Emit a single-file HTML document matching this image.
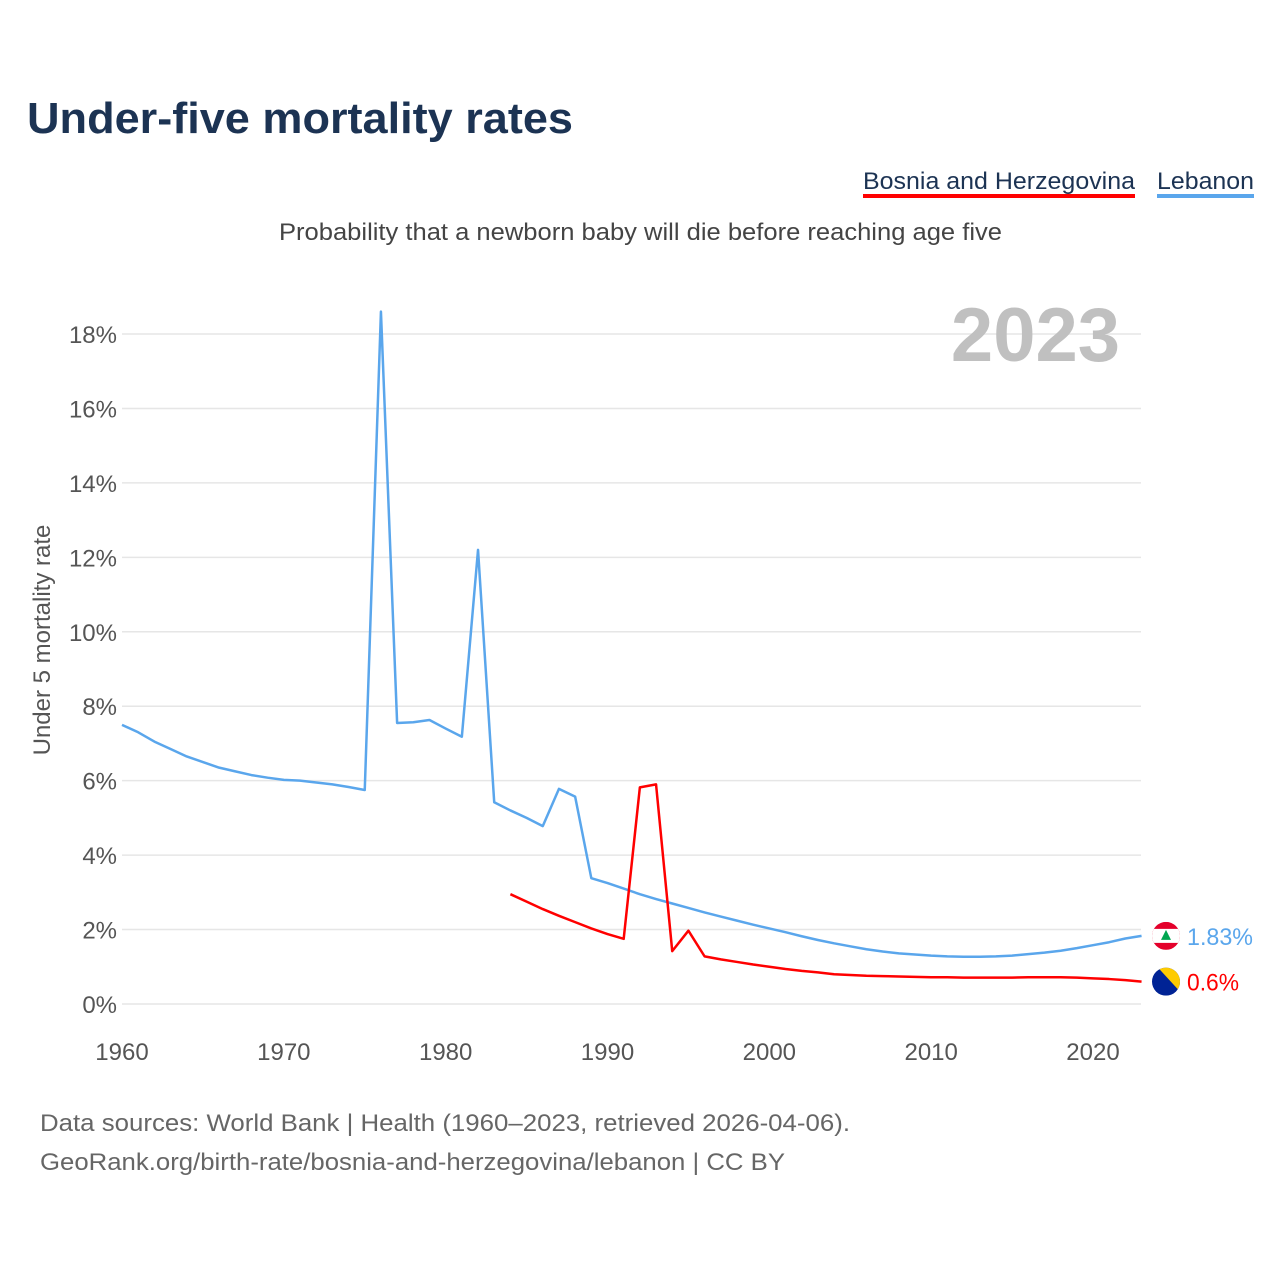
<!DOCTYPE html>
<html><head><meta charset="utf-8">
<style>
body{margin:0;background:#fff;font-family:"Liberation Sans",sans-serif;}
#wrap{position:relative;width:1280px;height:1280px;overflow:hidden;}
</style></head>
<body>
<div id="wrap">
<svg id="chart" width="1280" height="1280"></svg>
</div>
<script>
const years = [];
for (let y = 1960; y <= 2023; y++) years.push(y);
const lebanon = [7.5,7.3,7.05,6.85,6.65,6.5,6.35,6.25,6.15,6.08,6.02,6.0,5.95,5.9,5.83,5.75,18.6,7.55,7.57,7.63,7.4,7.18,12.2,5.42,5.2,5.0,4.78,5.78,5.57,3.38,3.25,3.1,2.95,2.82,2.7,2.58,2.46,2.35,2.24,2.13,2.03,1.93,1.82,1.72,1.63,1.55,1.47,1.41,1.36,1.33,1.3,1.28,1.27,1.27,1.28,1.3,1.34,1.38,1.43,1.5,1.58,1.66,1.76,1.83];
const bosniaYears = [];
for (let y = 1984; y <= 2023; y++) bosniaYears.push(y);
const bosnia = [2.95,2.75,2.55,2.37,2.2,2.03,1.88,1.75,5.82,5.9,1.42,1.97,1.28,1.2,1.13,1.06,1.0,0.94,0.89,0.85,0.8,0.78,0.76,0.75,0.74,0.73,0.72,0.72,0.71,0.71,0.71,0.71,0.72,0.72,0.72,0.71,0.69,0.67,0.64,0.6];
const yTicks = [0,2,4,6,8,10,12,14,16,18];
const xTicks = [1960,1970,1980,1990,2000,2010,2020];

const NS = "http://www.w3.org/2000/svg";
const svg = document.getElementById('chart');
const X = y => 122 + (y - 1960) * (1093 - 122) / 60;
const Y = v => 1004 - v * (1004 - 334) / 18;
function mk(tag, attrs, parent) {
  const e = document.createElementNS(NS, tag);
  for (const k in attrs) e.setAttribute(k, attrs[k]);
  (parent || svg).appendChild(e);
  return e;
}
function txt(s, attrs) { const e = mk('text', attrs); e.textContent = s; return e; }

let t = txt('Under-five mortality rates', {x:27,y:133,'font-size':44,'font-weight':'bold',fill:'#1c3353',textLength:546,lengthAdjust:'spacingAndGlyphs'});


t = txt('Probability that a newborn baby will die before reaching age five', {x:279,y:240,'font-size':24,fill:'#444',textLength:723,lengthAdjust:'spacingAndGlyphs'});



// legend
t = txt('Bosnia and Herzegovina', {x:863,y:189,'font-size':24,fill:'#1c3353',textLength:272,lengthAdjust:'spacingAndGlyphs'});


let r = mk('rect', {x:863,y:194,width:272,height:4,fill:'#ff0000'});


t = txt('Lebanon', {x:1157,y:189,'font-size':24,fill:'#1c3353',textLength:97,lengthAdjust:'spacingAndGlyphs'});


r = mk('rect', {x:1157,y:194,width:97,height:4,fill:'#5aa6ec'});



// grid + y ticks
yTicks.forEach(v => {
  const l = mk('line', {x1:122,x2:1141,y1:Y(v),y2:Y(v),stroke:'#e6e6e6','stroke-width':1.5});
  
  
  const tt = txt(v + '%', {x:117,y:Y(v)+9,'font-size':24,'text-anchor':'end',fill:'#555'});
  
  
});
xTicks.forEach(v => {
  const tt = txt(String(v), {x:X(v),y:1060,'font-size':24,'text-anchor':'middle',fill:'#555'});
  
  
});
t = txt('Under 5 mortality rate', {x:0,y:0,'font-size':24,'text-anchor':'middle',fill:'#555',transform:'translate(50,640) rotate(-90)'});



t = txt('2023', {x:1120,y:361,'font-size':76,'font-weight':'bold','text-anchor':'end',fill:'#c0c0c0'});



let p = mk('polyline', {points: years.map((y,i)=>X(y)+','+Y(lebanon[i])).join(' '), fill:'none', stroke:'#5aa6ec','stroke-width':2.5,'stroke-linejoin':'round'});


p = mk('polyline', {points: bosniaYears.map((y,i)=>X(y)+','+Y(bosnia[i])).join(' '), fill:'none', stroke:'#ff0000','stroke-width':2.5,'stroke-linejoin':'round'});



// flags
const lx = 1166, ly = Y(lebanon[lebanon.length-1]);
const gL = mk('g', {});


mk('clipPath', {id:'cl'}, gL);
mk('circle', {cx:lx,cy:ly,r:14}, gL.lastChild);
const gl2 = mk('g', {'clip-path':'url(#cl)'}, gL);
mk('rect', {x:lx-14,y:ly-14,width:28,height:28,fill:'#e4002b'}, gl2);
mk('rect', {x:lx-14,y:ly-7,width:28,height:14,fill:'#fff'}, gl2);
mk('polygon', {points:`${lx},${ly-6} ${lx-5},${ly+4} ${lx+5},${ly+4}`,fill:'#00a651'}, gL);
const bx = 1166, by = Y(bosnia[bosnia.length-1]);
const gB = mk('g', {});


mk('clipPath', {id:'cb'}, gB);
mk('circle', {cx:bx,cy:by,r:14}, gB.lastChild);
const gb2 = mk('g', {'clip-path':'url(#cb)'}, gB);
mk('rect', {x:bx-14,y:by-14,width:28,height:28,fill:'#002395'}, gb2);
mk('polygon', {points:`${bx-8},${by-14} ${bx+14},${by-14} ${bx+14},${by+10}`,fill:'#fecb00'}, gb2);

t = txt(lebanon[lebanon.length-1] + '%', {x:1187,y:ly+9,'font-size':24,fill:'#5aa6ec',textLength:66,lengthAdjust:'spacingAndGlyphs'});


t = txt(bosnia[bosnia.length-1] + '%', {x:1187,y:by+9,'font-size':24,fill:'#ff0000',textLength:52,lengthAdjust:'spacingAndGlyphs'});



t = txt('Data sources: World Bank | Health (1960–2023, retrieved 2026-04-06).', {x:40,y:1131,'font-size':24,fill:'#666',textLength:810,lengthAdjust:'spacingAndGlyphs'});


t = txt('GeoRank.org/birth-rate/bosnia-and-herzegovina/lebanon | CC BY', {x:40,y:1170,'font-size':24,fill:'#666',textLength:745,lengthAdjust:'spacingAndGlyphs'});


</script>
</body></html>
